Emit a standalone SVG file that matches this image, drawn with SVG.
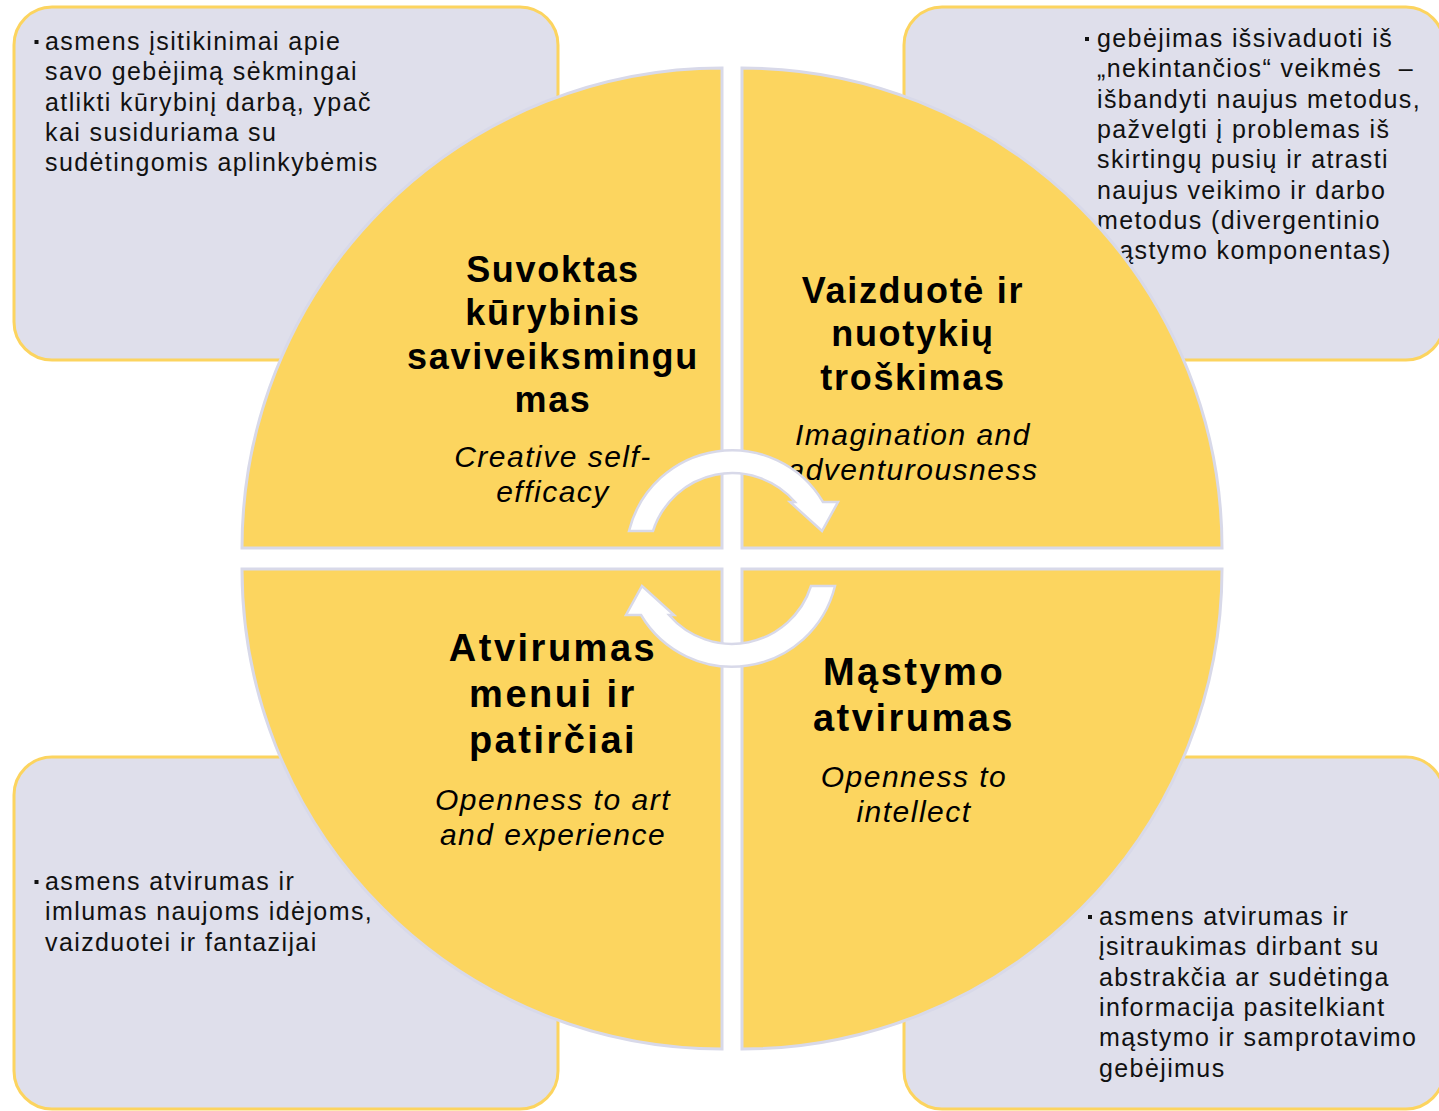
<svg xmlns="http://www.w3.org/2000/svg" width="1439" height="1111" viewBox="0 0 1439 1111">
<style>
.box{fill:#DFDFEB;stroke:#FCD45F;stroke-width:3}
.quad{fill:#FCD55F;stroke:#D8D9E9;stroke-width:3}
.arrow{fill:#FFFFFF;stroke:#D8D9E9;stroke-width:2.5}
.desc{font-family:"Liberation Sans",Arial,sans-serif;font-size:25px;letter-spacing:1.4px;fill:#111}
.bul{fill:#111}
.t1{font-family:"Liberation Sans",Arial,sans-serif;font-weight:bold;font-size:36px;letter-spacing:1.7px;fill:#000;text-anchor:middle}
.t2{font-family:"Liberation Sans",Arial,sans-serif;font-weight:bold;font-size:38px;letter-spacing:2.5px;fill:#000;text-anchor:middle}
.it{font-family:"Liberation Sans",Arial,sans-serif;font-style:italic;font-size:30px;letter-spacing:1.5px;fill:#000;text-anchor:middle}
</style>
<rect width="1439" height="1111" fill="#FFFFFF"/>

<g id="desc-tl">
<rect class="box" x="14" y="7" width="544" height="353" rx="38"/>
<rect class="bul" x="34.5" y="40" width="4" height="4"/>
<text class="desc" x="45"><tspan x="45" y="50">asmens įsitikinimai apie</tspan><tspan x="45" y="80.3">savo gebėjimą sėkmingai</tspan><tspan x="45" y="110.6">atlikti kūrybinį darbą, ypač</tspan><tspan x="45" y="140.9">kai susiduriama su</tspan><tspan x="45" y="171.2">sudėtingomis aplinkybėmis</tspan></text>
</g>

<g id="desc-tr">
<rect class="box" x="904" y="7" width="540" height="353" rx="38"/>
<rect class="bul" x="1085" y="37" width="4" height="4"/>
<text class="desc" x="1097"><tspan x="1097" y="47">gebėjimas išsivaduoti iš</tspan><tspan x="1097" y="77.3">„nekintančios“ veikmės &#160;–</tspan><tspan x="1097" y="107.6">išbandyti naujus metodus,</tspan><tspan x="1097" y="137.9">pažvelgti į problemas iš</tspan><tspan x="1097" y="168.2">skirtingų pusių ir atrasti</tspan><tspan x="1097" y="198.5">naujus veikimo ir darbo</tspan><tspan x="1097" y="228.8">metodus (divergentinio</tspan><tspan x="1097" y="259.1">mąstymo komponentas)</tspan></text>
</g>

<g id="desc-bl">
<rect class="box" x="14" y="757" width="544" height="352" rx="38"/>
<rect class="bul" x="34.5" y="880" width="4" height="4"/>
<text class="desc" x="45"><tspan x="45" y="890">asmens atvirumas ir</tspan><tspan x="45" y="920.3">imlumas naujoms idėjoms,</tspan><tspan x="45" y="950.6">vaizduotei ir fantazijai</tspan></text>
</g>

<g id="desc-br">
<rect class="box" x="904" y="757" width="540" height="352" rx="38"/>
<rect class="bul" x="1088" y="915" width="4" height="4"/>
<text class="desc" x="1099"><tspan x="1099" y="925">asmens atvirumas ir</tspan><tspan x="1099" y="955.3">įsitraukimas dirbant su</tspan><tspan x="1099" y="985.6">abstrakčia ar sudėtinga</tspan><tspan x="1099" y="1015.9">informacija pasitelkiant</tspan><tspan x="1099" y="1046.2">mąstymo ir samprotavimo</tspan><tspan x="1099" y="1076.5">gebėjimus</tspan></text>
</g>

<g id="q-tl">
<path class="quad" d="M722,548 L242,548 A480,480 0 0 1 722,68 Z"/>
<text class="t1"><tspan x="553" y="282">Suvoktas</tspan><tspan x="553" y="325">kūrybinis</tspan><tspan x="553" y="368.5">saviveiksmingu</tspan><tspan x="553" y="412">mas</tspan></text>
<text class="it"><tspan x="553" y="467">Creative self-</tspan><tspan x="553" y="502">efficacy</tspan></text>
</g>

<g id="q-tr">
<path class="quad" d="M742,548 L742,68 A480,480 0 0 1 1222,548 Z"/>
<text class="t1"><tspan x="913" y="303">Vaizduotė ir</tspan><tspan x="913" y="346">nuotykių</tspan><tspan x="913" y="389.5">troškimas</tspan></text>
<text class="it"><tspan x="913" y="445">Imagination and</tspan><tspan x="913" y="480">adventurousness</tspan></text>
</g>

<g id="q-bl">
<path class="quad" d="M722,569 L722,1049 A480,480 0 0 1 242,569 Z"/>
<text class="t2"><tspan x="553" y="661">Atvirumas</tspan><tspan x="553" y="707">menui ir</tspan><tspan x="553" y="753">patirčiai</tspan></text>
<text class="it"><tspan x="553" y="810">Openness to art</tspan><tspan x="553" y="845">and experience</tspan></text>
</g>

<g id="q-br">
<path class="quad" d="M742,569 L1222,569 A480,480 0 0 1 742,1049 Z"/>
<text class="t2"><tspan x="914" y="685">Mąstymo</tspan><tspan x="914" y="730.7">atvirumas</tspan></text>
<text class="it"><tspan x="914" y="786.7">Openness to</tspan><tspan x="914" y="821.7">intellect</tspan></text>
</g>

<g id="connectors">
<path class="arrow" d="M629,531 A106,106 0 0 1 823,502 L838,502 L822,531 L790,502 L795,502 A83,83 0 0 0 653,531 Z"/>
<path class="arrow" transform="rotate(180 732 558.5)" d="M629,531 A106,106 0 0 1 823,502 L838,502 L822,531 L790,502 L795,502 A83,83 0 0 0 653,531 Z"/>
</g>
</svg>
